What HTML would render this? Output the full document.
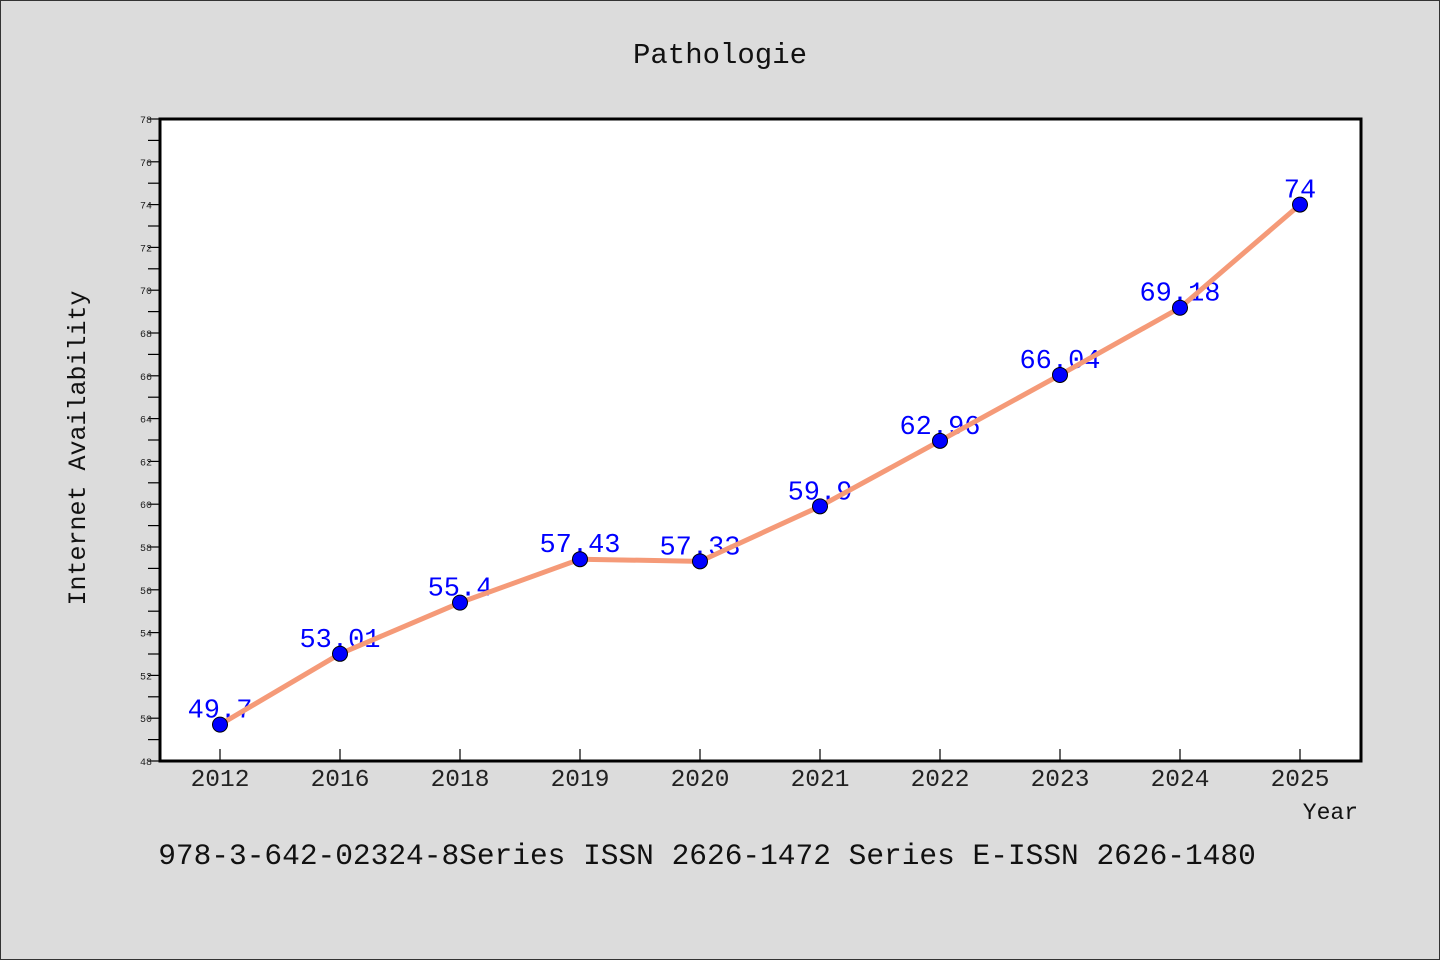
<!DOCTYPE html>
<html><head><meta charset="utf-8"><style>
body{margin:0;background:#dcdcdc}
svg{display:block}
text{font-family:"WenQuanYi Zen Hei Mono","Liberation Mono",monospace}
</style></head><body>
<svg id="c" width="1440" height="960">
<rect x="0.5" y="0.5" width="1439" height="959" fill="#dcdcdc" stroke="#333"/>
<text x="720" y="63" font-size="29" text-anchor="middle" fill="#111">Pathologie</text>
<rect x="160" y="119" width="1201" height="642" fill="#fff"/>
<g id="g"></g>
<rect x="160" y="119" width="1201" height="642" fill="none" stroke="#000" stroke-width="3"/>
<text transform="translate(85,448) rotate(-90)" font-size="25" text-anchor="middle" fill="#111">Internet Availability</text>
<text x="1358" y="819" font-size="23" text-anchor="end" fill="#111">Year</text>
<text x="707" y="864" font-size="29.5" text-anchor="middle" fill="#111">978-3-642-02324-8Series ISSN 2626-1472 Series E-ISSN 2626-1480</text>
</svg>
<script>
const categories=["2012","2016","2018","2019","2020","2021","2022","2023","2024","2025"];
const values=[49.7,53.01,55.4,57.43,57.33,59.9,62.96,66.04,69.18,74];
const labels=["49.7","53.01","55.4","57.43","57.33","59.9","62.96","66.04","69.18","74"];
const yTicks=[48,50,52,54,56,58,60,62,64,66,68,70,72,74,76,78];
const ns="http://www.w3.org/2000/svg",g=document.getElementById('g');
const yMin=48,yMax=78,plotTop=119,plotBot=761;
const ys=v=>plotBot-(v-yMin)/(yMax-yMin)*(plotBot-plotTop);
const xs=i=>220+i*120;
function el(t,a){const e=document.createElementNS(ns,t);for(const k in a)e.setAttribute(k,a[k]);g.appendChild(e);return e;}
for(let v=yMin;v<=yMax;v++){
  const t=el('line',{x1:148,x2:160,y1:ys(v),y2:ys(v),stroke:'#000','stroke-width':1.2});
  
  
}
yTicks.forEach(v=>{
  const t=el('text',{x:152,y:ys(v)+4,'font-size':10,'text-anchor':'end',fill:'#222'});t.textContent=v;
  
  
});
categories.forEach((c,i)=>{
  const t=el('line',{x1:xs(i),x2:xs(i),y1:749,y2:761,stroke:'#000','stroke-width':1.2});
  
  
  const l=el('text',{x:xs(i),y:786,'font-size':24.5,'text-anchor':'middle',fill:'#222'});l.textContent=c;
  
  
});
values.forEach((v,i)=>{
  const t=el('text',{x:xs(i),y:ys(v)-7,'font-size':27,'text-anchor':'middle',fill:'#0000ff'});t.textContent=labels[i];
  
  
});
const p=el('polyline',{points:values.map((v,i)=>xs(i)+','+ys(v)).join(' '),fill:'none',stroke:'#f59a78','stroke-width':5,'stroke-linejoin':'round'});


values.forEach((v,i)=>{
  const m=el('circle',{cx:xs(i),cy:ys(v),r:7.5,fill:'#0000ff',stroke:'#000','stroke-width':1});
  
  
});
</script>
</body></html>
